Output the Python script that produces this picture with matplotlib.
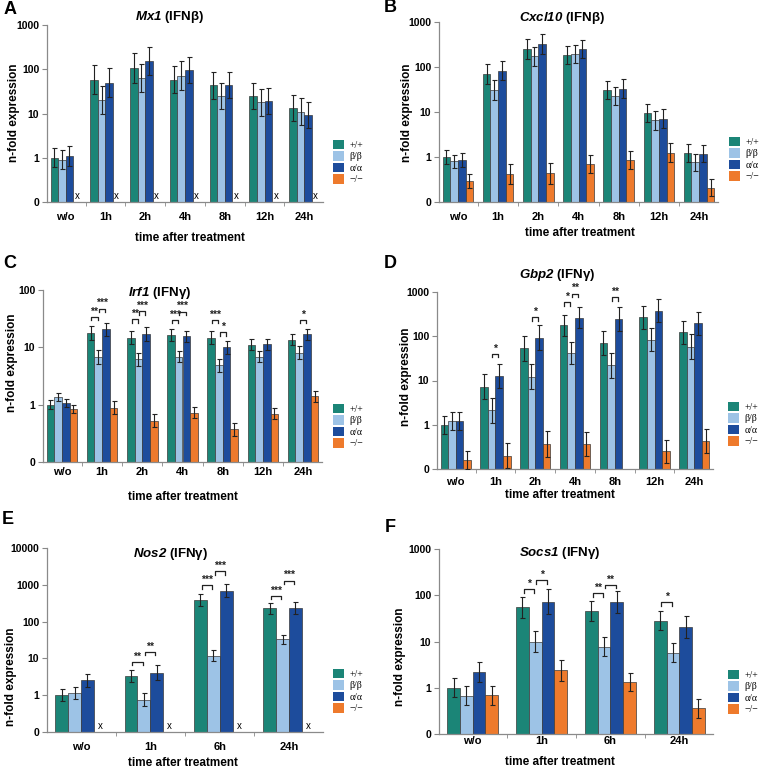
import numpy as np
import matplotlib
matplotlib.use("Agg")
import matplotlib.pyplot as plt
from matplotlib.patches import Patch

plt.rcParams['font.family'] = ['Liberation Sans', 'DejaVu Sans']
plt.rcParams['mathtext.fontset'] = 'custom'
plt.rcParams['mathtext.rm'] = 'Liberation Sans'
plt.rcParams['mathtext.it'] = 'Liberation Sans:italic'
plt.rcParams['mathtext.bf'] = 'Liberation Sans:bold'
plt.rcParams['mathtext.bfit'] = 'Liberation Sans:italic:bold'

nan = np.nan
genotypes = ['+/+', 'β/β', 'α/α', '−/−']
colors = ['#1b8577', '#9dc3e6', '#1d4c9c', '#ee7a2c']

groups7 = ['w/o', '1h', '2h', '4h', '8h', '12h', '24h']
groups4 = ['w/o', '1h', '6h', '24h']

# A  Mx1 (IFNb)   (-/- not detected -> "x")
mx1_wt = [1.0, 58, 105, 58, 43, 25, 13.4]
mx1_bb = [0.9, 20, 63, 72, 25, 18, 11]
mx1_aa = [1.1, 50, 155, 97, 44, 19, 9.3]
mx1_ko = [nan] * 7
mx1_err = [[1.65, 2.1, 2.2, 2.0, 2.0, 2.0, 2.0],
           [1.65, 2.1, 2.1, 2.1, 2.0, 2.0, 2.0],
           [1.7, 2.1, 2.1, 2.0, 2.0, 2.0, 2.0],
           [1] * 7]

# B  Cxcl10 (IFNb)
cxcl10_wt = [1.0, 70, 250, 187, 31, 9.5, 1.23]
cxcl10_bb = [0.8, 31, 172, 195, 23, 6.5, 0.76]
cxcl10_aa = [0.86, 83, 325, 250, 33, 7.1, 1.17]
cxcl10_ko = [0.29, 0.42, 0.43, 0.7, 0.87, 1.25, 0.21]
cxcl10_err = [[1.4, 1.7, 1.7, 1.6, 1.6, 1.6, 1.6],
              [1.4, 1.7, 1.65, 1.6, 1.6, 1.6, 1.55],
              [1.4, 1.6, 1.65, 1.6, 1.6, 1.65, 1.55],
              [1.45, 1.7, 1.75, 1.6, 1.6, 1.65, 1.55]]

# C  Irf1 (IFNg)
irf1_wt = [1.0, 17.8, 14.8, 16.4, 14.8, 11.1, 13.6]
irf1_bb = [1.36, 6.8, 6.2, 6.8, 4.85, 6.8, 8.1]
irf1_aa = [1.07, 20.6, 17.1, 15.5, 10, 11.3, 16.9]
irf1_ko = [0.84, 0.89, 0.52, 0.72, 0.37, 0.7, 1.4]
irf1_err = [[1.19, 1.3, 1.3, 1.25, 1.3, 1.25, 1.25],
            [1.19, 1.33, 1.3, 1.25, 1.3, 1.25, 1.3],
            [1.19, 1.3, 1.3, 1.25, 1.3, 1.25, 1.25],
            [1.19, 1.28, 1.3, 1.25, 1.3, 1.25, 1.25]]
irf1_sig = [(1, 0, 1, 34, '**'), (1, 1, 2, 47, '***'),
            (2, 0, 1, 31, '**'), (2, 1, 2, 43, '***'),
            (3, 0, 1, 30, '***'), (3, 1, 2, 42, '***'),
            (4, 0, 1, 30, '***'), (4, 1, 2, 18.5, '*'),
            (6, 1, 2, 30, '*')]

# D  Gbp2 (IFNg)
gbp2_wt = [1.0, 7.2, 53, 175, 70, 268, 123]
gbp2_bb = [1.2, 2.1, 12.3, 42, 22, 84, 58]
gbp2_aa = [1.2, 12.5, 93, 265, 247, 380, 197]
gbp2_ko = [0.16, 0.2, 0.37, 0.37, nan, 0.25, 0.43]
gbp2_err = [[1.6, 1.9, 1.9, 1.7, 1.9, 1.8, 1.8],
            [1.6, 1.9, 1.95, 1.75, 1.9, 1.85, 1.9],
            [1.6, 1.85, 1.95, 1.75, 1.85, 1.8, 1.8],
            [1.6, 1.9, 2.0, 1.9, 1.0, 1.8, 1.9]]
gbp2_sig = [(1, 1, 2, 40, '*'), (2, 1, 2, 270, '*'),
            (3, 0, 1, 590, '*'), (3, 1, 2, 920, '**'),
            (4, 1, 2, 770, '**')]

# E  Nos2 (IFNg)   (-/- not detected -> "x")
nos2_wt = [1.0, 3.33, 378, 228]
nos2_bb = [1.13, 0.75, 11.8, 33]
nos2_aa = [2.54, 4.1, 700, 228]
nos2_ko = [nan] * 4
nos2_err = [[1.48, 1.45, 1.45, 1.42],
            [1.45, 1.5, 1.42, 1.35],
            [1.5, 1.6, 1.48, 1.45],
            [1] * 4]
nos2_sig = [(1, 0, 1, 8.1, '**'), (1, 1, 2, 15, '**'),
            (2, 0, 1, 960, '***'), (2, 1, 2, 2340, '***'),
            (3, 0, 1, 500, '***'), (3, 1, 2, 1300, '***')]

# F  Socs1 (IFNg)
socs1_wt = [1.0, 55, 46.5, 28]
socs1_bb = [0.67, 10, 7.7, 5.7]
socs1_aa = [2.19, 73, 72, 20.6]
socs1_ko = [0.69, 2.4, 1.33, 0.36]
socs1_err = [[1.6, 1.7, 1.65, 1.6],
             [1.6, 1.7, 1.6, 1.6],
             [1.67, 1.85, 1.7, 1.7],
             [1.6, 1.7, 1.6, 1.6]]
socs1_sig = [(1, 0, 1, 135, '*'), (1, 1, 2, 210, '*'),
             (2, 0, 1, 110, '**'), (2, 1, 2, 167, '**'),
             (3, 0, 1, 70, '*')]

W, H = 760, 768
fig = plt.figure(figsize=(W / 100, H / 100), dpi=100)


def px_axes(left, right, top, bottom):
    return fig.add_axes([left / W, 1 - bottom / H, (right - left) / W, (bottom - top) / H])


def bracket(ax, x1, x2, y, txt):
    yd = ax.transData.transform((0, y))[1]
    ylo = ax.transData.inverted().transform((0, yd - 3.5))[1]
    ax.plot([x1, x1, x2, x2], [ylo, y, y, ylo], color='#222222', lw=0.9)
    ax.text((x1 + x2) / 2, y * 1.02, txt, ha='center', va='bottom',
            fontsize=7.5, fontweight='bold', color='#222222')


def panel(box, letter, letter_xy, gene, ifn, title_xy, groups, series, errs,
          ytop, bw, sig, ylab_xy, xlab_xy, leg_xy, tick_pad):
    ax = px_axes(*box)
    n = len(groups)
    x = np.arange(n)
    for k, (vals, fac, col) in enumerate(zip(series, errs, colors)):
        vals = np.array(vals, float)
        fac = np.array(fac, float)
        xs = x + (k - 1.5) * bw
        ok = ~np.isnan(vals)
        if ok.any():
            ax.bar(xs[ok], vals[ok] - 0.1, bottom=0.1, width=bw, color=col,
                   edgecolor='#3a3a3a', linewidth=0.5, zorder=2)
            lo = vals[ok] - vals[ok] / fac[ok]
            hi = vals[ok] * fac[ok] - vals[ok]
            ax.errorbar(xs[ok], vals[ok], yerr=[lo, hi], fmt='none',
                        ecolor='#222222', elinewidth=0.8, capsize=1.8,
                        capthick=0.8, zorder=3)
    ax.set_yscale('log')
    ax.set_ylim(0.1, ytop)
    m = 0.47 if n == 7 else 0.49
    ax.set_xlim(-m, n - 1 + m)
    # not detected markers
    if np.all(np.isnan(np.array(series[3], float))):
        for xi in x + 1.5 * bw:
            ax.text(xi, 0.1 * 1.08, 'x', ha='center', va='bottom', fontsize=7)
    decades = [10.0 ** p for p in range(-1, int(round(np.log10(ytop))) + 1)]
    ax.set_yticks(decades)
    ax.set_yticklabels(['0'] + ['%d' % d for d in decades[1:]],
                       fontsize=7.5, fontweight='bold')
    ax.yaxis.set_minor_locator(matplotlib.ticker.NullLocator())
    ax.set_xticks(x)
    ax.set_xticklabels(groups, fontsize=8, fontweight='bold')
    ax.set_xticks(x[:-1] + 0.5, minor=True)
    ax.tick_params(axis='x', which='major', length=0, pad=tick_pad)
    ax.tick_params(axis='x', which='minor', length=3, color='#888888', direction='out')
    ax.tick_params(axis='y', length=3.5, color='#888888', pad=2)
    for s in ['top', 'right']:
        ax.spines[s].set_visible(False)
    for s in ['left', 'bottom']:
        ax.spines[s].set_color('#8a8a8a')
        ax.spines[s].set_linewidth(0.9)
    for g, i, j, y, txt in sig:
        x1 = g + (i - 1.5) * bw + 0.1 * bw
        x2 = g + (j - 1.5) * bw - 0.1 * bw
        bracket(ax, x1, x2, y, txt)
    fig.text(letter_xy[0] / W, 1 - letter_xy[1] / H, letter, fontsize=13,
             fontweight='bold', ha='center', va='center')
    fig.text(title_xy[0] / W, 1 - title_xy[1] / H,
             r'$\mathbfit{%s}$ (IFN%s)' % (gene, ifn), fontsize=9.5,
             fontweight='bold', ha='center', va='center')
    fig.text(ylab_xy[0] / W, 1 - ylab_xy[1] / H, 'n-fold expression',
             rotation=90, fontsize=8.5, fontweight='bold', ha='center', va='center')
    fig.text(xlab_xy[0] / W, 1 - xlab_xy[1] / H, 'time after treatment',
             fontsize=8.5, fontweight='bold', ha='center', va='center')
    handles = [Patch(facecolor=c, edgecolor='none') for c in colors]
    ax.legend(handles, genotypes, loc='upper left',
              bbox_to_anchor=(leg_xy[0] / W, 1 - leg_xy[1] / H),
              bbox_transform=fig.transFigure, frameon=False,
              prop={'family': ['Liberation Serif'], 'size': 7},
              handlelength=1.1, handleheight=1.1, labelspacing=0.15,
              borderpad=0, borderaxespad=0, handletextpad=0.6)
    return ax


panel((47, 323, 25, 202), 'A', (10, 9), 'Mx1', 'β', (170, 17), groups7,
      [mx1_wt, mx1_bb, mx1_aa, mx1_ko], mx1_err, 1000, 0.19, [],
      (14, 113), (190, 238), (333, 140), 7)
panel((439, 718, 22, 202), 'B', (390, 8), 'Cxcl10', 'β', (562, 18), groups7,
      [cxcl10_wt, cxcl10_bb, cxcl10_aa, cxcl10_ko], cxcl10_err, 1000, 0.19, [],
      (407, 113), (580, 233), (729, 137), 7)
panel((43, 322, 290, 462), 'C', (10, 264), 'Irf1', 'γ', (160, 293), groups7,
      [irf1_wt, irf1_bb, irf1_aa, irf1_ko], irf1_err, 100, 0.19, irf1_sig,
      (12, 363), (183, 497), (333, 404), 3.5)
panel((437, 713, 292, 469), 'D', (390, 263), 'Gbp2', 'γ', (557, 275), groups7,
      [gbp2_wt, gbp2_bb, gbp2_aa, gbp2_ko], gbp2_err, 1000, 0.19, gbp2_sig,
      (406, 377), (560, 495), (728, 402), 5.5)
panel((47, 323, 548, 732), 'E', (8, 520), 'Nos2', 'γ', (170, 554), groups4,
      [nos2_wt, nos2_bb, nos2_aa, nos2_ko], nos2_err, 10000, 0.185, nos2_sig,
      (11, 677), (183, 763), (333, 669), 7)
panel((439, 713, 549, 734), 'F', (390, 528), 'Socs1', 'γ', (560, 553), groups4,
      [socs1_wt, socs1_bb, socs1_aa, socs1_ko], socs1_err, 1000, 0.185, socs1_sig,
      (400, 657), (560, 762), (728, 670), 1.5)

fig.savefig('out.png', dpi=100)
